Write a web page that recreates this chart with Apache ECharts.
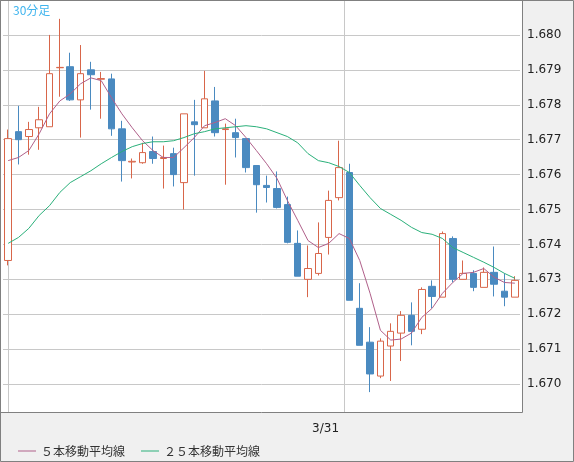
<!DOCTYPE html>
<html>
  <head>
    <meta charset="utf-8">
    <title>30分足</title>
    <script src="https://cdn.jsdelivr.net/npm/echarts@6/dist/echarts.min.js"></script>
    <style>
      html, body { margin: 0; padding: 0; background: #f0f0f0; }
      #main { width: 574px; height: 462px; }
    </style>
  </head>
  <body>
    <div id="main"></div>
    <script type="text/javascript">
      var categories = [];
      for (var i = 0; i < 50; i++) { categories.push(i === 32 ? '3/31' : ''); }
      // [open, close, low, high]
      var candles = [
        [1.67354,1.67703,1.67340,1.67729],[1.67723,1.67700,1.67629,1.67797],[1.67709,1.67729,1.67657,1.67751],
        [1.67734,1.67757,1.67671,1.67794],[1.67737,1.67889,1.67737,1.68000],[1.67906,1.67907,1.67823,1.68046],
        [1.67909,1.67814,1.67811,1.67949],[1.67814,1.67889,1.67706,1.67971],[1.67900,1.67886,1.67786,1.67923],
        [1.67873,1.67875,1.67760,1.67894],[1.67874,1.67731,1.67711,1.67889],[1.67731,1.67640,1.67580,1.67754],
        [1.67636,1.67638,1.67589,1.67646],[1.67634,1.67663,1.67631,1.67691],[1.67666,1.67646,1.67631,1.67709],
        [1.67646,1.67649,1.67560,1.67683],[1.67660,1.67600,1.67566,1.67677],[1.67577,1.67774,1.67500,1.67774],
        [1.67751,1.67743,1.67597,1.67814],[1.67734,1.67817,1.67734,1.67897],[1.67811,1.67720,1.67709,1.67851],
        [1.67729,1.67731,1.67571,1.67746],[1.67720,1.67706,1.67649,1.67760],[1.67703,1.67620,1.67606,1.67703],
        [1.67626,1.67571,1.67491,1.67626],[1.67569,1.67563,1.67520,1.67597],[1.67560,1.67506,1.67503,1.67609],
        [1.67514,1.67406,1.67403,1.67537],[1.67403,1.67309,1.67309,1.67440],[1.67300,1.67331,1.67249,1.67397],
        [1.67317,1.67374,1.67311,1.67463],[1.67420,1.67526,1.67371,1.67554],[1.67534,1.67620,1.67526,1.67697],
        [1.67606,1.67240,1.67240,1.67631],[1.67217,1.67111,1.67111,1.67289],[1.67120,1.67029,1.66977,1.67163],
        [1.67023,1.67123,1.67017,1.67131],[1.67109,1.67151,1.67009,1.67174],[1.67146,1.67197,1.67066,1.67209],
        [1.67197,1.67151,1.67111,1.67234],[1.67157,1.67271,1.67143,1.67277],[1.67280,1.67251,1.67217,1.67297],
        [1.67249,1.67431,1.67249,1.67437],[1.67417,1.67300,1.67291,1.67423],[1.67300,1.67317,1.67300,1.67354],
        [1.67317,1.67277,1.67266,1.67326],[1.67277,1.67320,1.67277,1.67334],[1.67320,1.67286,1.67251,1.67394],
        [1.67266,1.67249,1.67223,1.67317],[1.67249,1.67297,1.67249,1.67309]
      ];
      var ma5 = [
        1.67640,1.67649,1.67669,1.67717,1.67774,1.67811,1.67831,1.67860,1.67877,1.67869,
        1.67820,1.67774,1.67734,1.67697,1.67669,1.67649,1.67649,1.67677,1.67706,1.67740,
        1.67749,1.67760,1.67740,1.67706,1.67669,1.67631,1.67589,1.67526,1.67469,1.67411,
        1.67391,1.67403,1.67431,1.67417,1.67354,1.67260,1.67154,1.67126,1.67129,1.67146,
        1.67191,1.67217,1.67260,1.67291,1.67317,1.67320,1.67331,1.67306,1.67291,1.67289
      ];
      var ma25 = [
        1.67403,1.67420,1.67446,1.67483,1.67511,1.67549,1.67577,1.67594,1.67611,1.67631,
        1.67649,1.67666,1.67680,1.67689,1.67694,1.67694,1.67697,1.67706,1.67717,1.67723,
        1.67731,1.67734,1.67737,1.67740,1.67737,1.67731,1.67720,1.67709,1.67691,1.67660,
        1.67640,1.67634,1.67623,1.67606,1.67569,1.67534,1.67503,1.67486,1.67469,1.67449,
        1.67434,1.67429,1.67417,1.67391,1.67377,1.67363,1.67349,1.67334,1.67317,1.67303
      ];

      var myChart = echarts.init(document.getElementById('main'));
      var option = {
        backgroundColor: '#f0f0f0',
        animation: false,
        textStyle: { fontFamily: 'Noto Sans CJK JP' },
        grid: { left: 3, right: 54, top: -1, bottom: 43 },
        legend: {
          left: 13, top: 440, itemWidth: 18, itemHeight: 1, itemGap: 16, icon: 'rect',
          textStyle: { fontSize: 12, color: '#333', fontFamily: 'Noto Sans CJK JP' },
          data: ['５本移動平均線', '２５本移動平均線']
        },
        xAxis: {
          type: 'category',
          data: categories,
          boundaryGap: true,
          axisLine: { show: false },
          axisTick: { show: false },
          axisLabel: { interval: 0, margin: 4, align: 'right', fontSize: 12, color: '#222', fontFamily: 'DejaVu Sans' },
          splitLine: { show: false }
        },
        yAxis: {
          type: 'value', position: 'right', min: 1.669, max: 1.681, interval: 0.001,
          axisLine: { show: false }, axisTick: { show: false },
          axisLabel: {
            margin: 7, fontSize: 12, color: '#222', fontFamily: 'DejaVu Sans',
            formatter: function (v) { return (v > 1.6805 || v < 1.6695) ? '' : v.toFixed(3); }
          },
          splitLine: { lineStyle: { color: '#c8c8c8' } }
        },
        graphic: [
          { type: 'rect', z: -10, silent: true, shape: { x: 1, y: 1, width: 522, height: 411 }, style: { fill: '#fff' } },
          { type: 'rect', z: 100, silent: true, shape: { x: 0, y: 413, width: 574, height: 7 }, style: { fill: '#f0f0f0' } },
          { type: 'rect', z: 101, silent: true, shape: { x: 0.5, y: 0.5, width: 522, height: 412 }, style: { fill: null, stroke: '#808080', lineWidth: 1 } },
          { type: 'rect', z: 101, silent: true, shape: { x: 0.5, y: 0.5, width: 573, height: 461 }, style: { fill: null, stroke: '#808080', lineWidth: 1 } },
          { type: 'text', z: 102, left: 13, top: 4, style: { text: '30分足', fill: '#3fb4ee', fontSize: 12, fontFamily: 'Noto Sans CJK JP' } }
        ],
        series: [
          {
            type: 'candlestick', data: candles, barWidth: 7,
            itemStyle: { color: '#ffffff', borderColor: '#d8664a', color0: '#4a8ac0', borderColor0: '#4a8ac0', borderWidth: 1 }
          },
          { name: '５本移動平均線', type: 'line', data: ma5, symbol: 'none', lineStyle: { color: '#b0608a', width: 1 }, itemStyle: { color: '#b0608a' } },
          { name: '２５本移動平均線', type: 'line', data: ma25, symbol: 'none', lineStyle: { color: '#2ab07a', width: 1 }, itemStyle: { color: '#2ab07a' } }
        ]
      };
      myChart.setOption(option);

      // vertical guide lines: through the first candle and at the 3/31 day boundary
      var x0 = Math.round(myChart.convertToPixel({ xAxisIndex: 0 }, 0)) + 0.5;
      var xd = Math.round((myChart.convertToPixel({ xAxisIndex: 0 }, 32) + myChart.convertToPixel({ xAxisIndex: 0 }, 33)) / 2) + 0.5;
      var g = option.graphic.slice();
      [x0, xd].forEach(function (x) {
        g.push({ type: 'line', z: -5, silent: true, shape: { x1: x, y1: 1, x2: x, y2: 412 }, style: { stroke: '#c8c8c8', lineWidth: 1 } });
      });
      myChart.setOption({ graphic: g }, { replaceMerge: ['graphic'] });
    </script>
  </body>
</html>
